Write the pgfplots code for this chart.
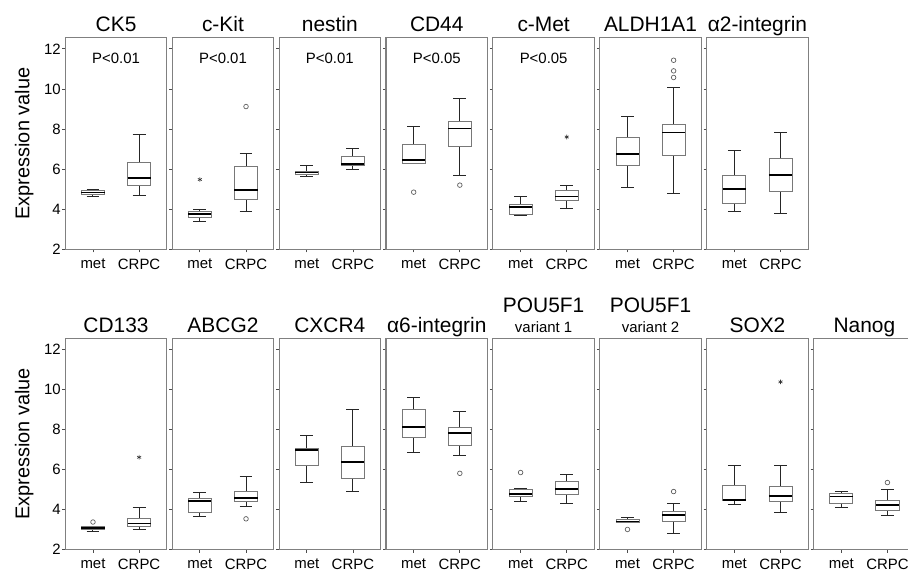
\documentclass[border=0pt]{standalone}
\usepackage{fontspec}
\setmainfont{Liberation Sans}
\usepackage{pgfplots}
\pgfplotsset{compat=1.18}
\usepgfplotslibrary{statistics}
\definecolor{framegray}{RGB}{128,128,128}
\definecolor{boxgray}{RGB}{120,120,120}
\definecolor{outgray}{RGB}{95,95,95}
\pgfplotsset{
 panel/.style={
  scale only axis, width=101.5bp, height=211.5bp, anchor=south west,
  xmin=0.4, xmax=2.6, ymin=2, ymax=12.55, clip=false,
  xtick={1,2}, xticklabels={met,CRPC},
  ytick={2,4,6,8,10,12}, yticklabels={},
  tick pos=left, tick align=outside, major tick length=3bp,
  axis line style={draw=framegray, line width=1.1bp},
  major tick style={draw=black!70, line width=0.8bp},
  tick label style={font=\fontsize{15}{18}\selectfont},
  xticklabel style={yshift=-3bp},
  yticklabel style={xshift=2bp},
  title style={at={(0.5,1)}, anchor=base, yshift=0bp, font=\fontsize{21}{25}\selectfont},
  boxplot/draw direction=y,
  boxplot/box extend=0.5, boxplot/whisker extend=0.28,
  boxplot/every box/.style={draw=boxgray, line width=0.9bp},
  boxplot/every median/.style={draw=black, line width=1.8bp},
  boxplot/every whisker/.style={draw=black!85, line width=1bp},
 },
 firstpanel/.style={yticklabels={2,4,6,8,10,12},
  ylabel={Expression value},
  ylabel style={at={(axis description cs:-0.355,0.5)}, anchor=base, font=\fontsize{20}{24}\selectfont}},
 circ/.style={mark=o, mark size=2.3bp, mark options={draw=outgray, line width=0.7bp}},
 star/.style={mark=asterisk, mark size=2.3bp, mark options={draw=black!80, line width=0.6bp}},
 nomark/.style={mark=none},
}
\newcommand{\ptext}[1]{\node[anchor=base, font=\fontsize{15}{18}\selectfont] at (axis cs:1.5,11.25) {#1};}
\begin{document}
\begin{tikzpicture}
\useasboundingbox (0,0) rectangle (908bp,574bp);
\clip (0,0) rectangle (908bp,574bp);
% ---------------- top row ----------------
\begin{axis}[panel, firstpanel, at={(65.3bp,324.7bp)}, title={CK5}]
\ptext{P<0.01}
\addplot[nomark, boxplot prepared={draw position=1, lower whisker=4.65, lower quartile=4.75, median=4.83, upper quartile=4.95, upper whisker=4.98}] coordinates {};
\addplot[nomark, boxplot prepared={draw position=2, lower whisker=4.68, lower quartile=5.18, median=5.57, upper quartile=6.35, upper whisker=7.73}] coordinates {};
\end{axis}
\begin{axis}[panel, at={(172.2bp,324.7bp)}, title={c-Kit}]
\ptext{P<0.01}
\addplot[star, boxplot prepared={draw position=1, lower whisker=3.40, lower quartile=3.58, median=3.77, upper quartile=3.87, upper whisker=3.97}] coordinates {(0,5.48)};
\addplot[circ, boxplot prepared={draw position=2, lower whisker=3.87, lower quartile=4.48, median=4.95, upper quartile=6.13, upper whisker=6.78}] coordinates {(0,9.12)};
\end{axis}
\begin{axis}[panel, at={(279.1bp,324.7bp)}, title={nestin}]
\ptext{P<0.01}
\addplot[nomark, boxplot prepared={draw position=1, lower whisker=5.65, lower quartile=5.73, median=5.83, upper quartile=5.90, upper whisker=6.17}] coordinates {};
\addplot[nomark, boxplot prepared={draw position=2, lower whisker=5.98, lower quartile=6.18, median=6.27, upper quartile=6.63, upper whisker=7.05}] coordinates {};
\end{axis}
\begin{axis}[panel, at={(386bp,324.7bp)}, title={CD44}]
\ptext{P<0.05}
\addplot[circ, boxplot prepared={draw position=1, lower whisker=6.27, lower quartile=6.27, median=6.45, upper quartile=7.23, upper whisker=8.13}] coordinates {(0,4.85)};
\addplot[circ, boxplot prepared={draw position=2, lower whisker=5.70, lower quartile=7.15, median=8.03, upper quartile=8.38, upper whisker=9.52}] coordinates {(0,5.20)};
\end{axis}
\begin{axis}[panel, at={(492.9bp,324.7bp)}, title={c-Met}]
\ptext{P<0.05}
\addplot[nomark, boxplot prepared={draw position=1, lower whisker=3.67, lower quartile=3.72, median=4.10, upper quartile=4.23, upper whisker=4.65}] coordinates {};
\addplot[star, boxplot prepared={draw position=2, lower whisker=4.03, lower quartile=4.43, median=4.63, upper quartile=4.93, upper whisker=5.17}] coordinates {(0,7.60)};
\end{axis}
\begin{axis}[panel, at={(599.8bp,324.7bp)}, title={ALDH1A1}]
\addplot[nomark, boxplot prepared={draw position=1, lower whisker=5.08, lower quartile=6.18, median=6.75, upper quartile=7.58, upper whisker=8.60}] coordinates {};
\addplot[circ, boxplot prepared={draw position=2, lower whisker=4.78, lower quartile=6.70, median=7.83, upper quartile=8.23, upper whisker=10.07}] coordinates {(0,10.57) (0,10.90) (0,11.43)};
\end{axis}
\begin{axis}[panel, at={(706.7bp,324.7bp)}, title={α2-integrin}]
\addplot[nomark, boxplot prepared={draw position=1, lower whisker=3.87, lower quartile=4.27, median=5.00, upper quartile=5.67, upper whisker=6.92}] coordinates {};
\addplot[nomark, boxplot prepared={draw position=2, lower whisker=3.77, lower quartile=4.88, median=5.70, upper quartile=6.55, upper whisker=7.82}] coordinates {};
\end{axis}
% ---------------- bottom row ----------------
\begin{axis}[panel, firstpanel, at={(65.3bp,24.3bp)}, title={CD133}]
\addplot[circ, boxplot prepared={draw position=1, lower whisker=2.93, lower quartile=3.01, median=3.08, upper quartile=3.14, upper whisker=3.17}] coordinates {(0,3.38)};
\addplot[star, boxplot prepared={draw position=2, lower whisker=3.00, lower quartile=3.16, median=3.31, upper quartile=3.54, upper whisker=4.11}] coordinates {(0,6.61)};
\end{axis}
\begin{axis}[panel, at={(172.2bp,24.3bp)}, title={ABCG2}]
\addplot[nomark, boxplot prepared={draw position=1, lower whisker=3.66, lower quartile=3.87, median=4.42, upper quartile=4.55, upper whisker=4.84}] coordinates {};
\addplot[circ, boxplot prepared={draw position=2, lower whisker=4.16, lower quartile=4.39, median=4.59, upper quartile=4.92, upper whisker=5.67}] coordinates {(0,3.54)};
\end{axis}
\begin{axis}[panel, at={(279.1bp,24.3bp)}, title={CXCR4}]
\addplot[nomark, boxplot prepared={draw position=1, lower whisker=5.33, lower quartile=6.20, median=6.96, upper quartile=7.04, upper whisker=7.72}] coordinates {};
\addplot[nomark, boxplot prepared={draw position=2, lower whisker=4.89, lower quartile=5.53, median=6.38, upper quartile=7.17, upper whisker=8.97}] coordinates {};
\end{axis}
\begin{axis}[panel, at={(386bp,24.3bp)}, title={α6-integrin}]
\addplot[nomark, boxplot prepared={draw position=1, lower whisker=6.86, lower quartile=7.59, median=8.12, upper quartile=8.98, upper whisker=9.61}] coordinates {};
\addplot[circ, boxplot prepared={draw position=2, lower whisker=6.69, lower quartile=7.22, median=7.84, upper quartile=8.10, upper whisker=8.87}] coordinates {(0,5.81)};
\end{axis}
\begin{axis}[panel, at={(492.9bp,24.3bp)}, title={POU5F1}, title style={yshift=20bp}]
\node[anchor=base, yshift=6bp, font=\fontsize{15}{18}\selectfont] at (rel axis cs:0.5,1) {variant 1};
\addplot[circ, boxplot prepared={draw position=1, lower whisker=4.42, lower quartile=4.67, median=4.77, upper quartile=5.02, upper whisker=5.05}] coordinates {(0,5.85)};
\addplot[nomark, boxplot prepared={draw position=2, lower whisker=4.31, lower quartile=4.74, median=5.02, upper quartile=5.38, upper whisker=5.73}] coordinates {};
\end{axis}
\begin{axis}[panel, at={(599.8bp,24.3bp)}, title={POU5F1}, title style={yshift=20bp}]
\node[anchor=base, yshift=6bp, font=\fontsize{15}{18}\selectfont] at (rel axis cs:0.5,1) {variant 2};
\addplot[circ, boxplot prepared={draw position=1, lower whisker=3.36, lower quartile=3.36, median=3.41, upper quartile=3.49, upper whisker=3.59}] coordinates {(0,3.01)};
\addplot[circ, boxplot prepared={draw position=2, lower whisker=2.83, lower quartile=3.39, median=3.74, upper quartile=3.89, upper whisker=4.29}] coordinates {(0,4.90)};
\end{axis}
\begin{axis}[panel, at={(706.7bp,24.3bp)}, title={SOX2}]
\addplot[nomark, boxplot prepared={draw position=1, lower whisker=4.27, lower quartile=4.44, median=4.47, upper quartile=5.20, upper whisker=6.18}] coordinates {};
\addplot[star, boxplot prepared={draw position=2, lower whisker=3.84, lower quartile=4.39, median=4.69, upper quartile=5.17, upper whisker=6.21}] coordinates {(0,10.37)};
\end{axis}
\begin{axis}[panel, at={(813.6bp,24.3bp)}, title={Nanog}]
\addplot[nomark, boxplot prepared={draw position=1, lower whisker=4.09, lower quartile=4.31, median=4.65, upper quartile=4.79, upper whisker=4.89}] coordinates {};
\addplot[circ, boxplot prepared={draw position=2, lower whisker=3.71, lower quartile=3.96, median=4.21, upper quartile=4.45, upper whisker=5.02}] coordinates {(0,5.35)};
\end{axis}
\end{tikzpicture}
\end{document}
